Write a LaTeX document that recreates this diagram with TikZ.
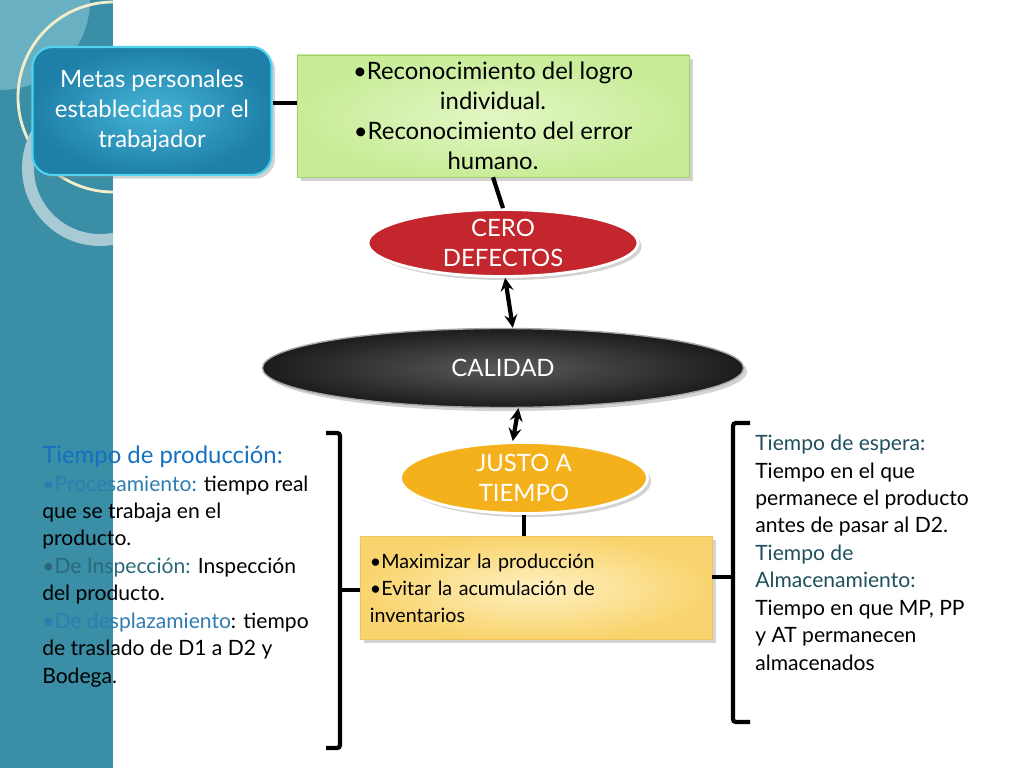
\documentclass[tikz,border=0pt]{standalone}
\usepackage{fontspec}
\setmainfont{Lato}
\usetikzlibrary{shapes.geometric,shadows,positioning}
\definecolor{band}{HTML}{3A8EA6}
\definecolor{bandlight}{HTML}{6AB0C3}
\definecolor{cream}{HTML}{F3EDCC}
\definecolor{ring}{HTML}{A8CAD4}
\definecolor{metain}{HTML}{45B3D6}
\definecolor{metaout}{HTML}{1E7FA8}
\definecolor{metaedge}{HTML}{4FD3EE}
\definecolor{greenin}{HTML}{E2F7C4}
\definecolor{greenout}{HTML}{C8EC98}
\definecolor{greenedge}{HTML}{A5CC75}
\definecolor{yellowin}{HTML}{FEF0C0}
\definecolor{yellowout}{HTML}{F9D46E}
\definecolor{yellowedge}{HTML}{F0C45A}
\definecolor{cero}{HTML}{C3262C}
\definecolor{calin}{HTML}{5A5A5A}
\definecolor{calout}{HTML}{1C1C1C}
\definecolor{justo}{HTML}{F5B11C}
\definecolor{heading}{HTML}{1470C2}
\definecolor{pre}{HTML}{2E7DB0}
\definecolor{predark}{HTML}{2A6A78}
\definecolor{side}{HTML}{1F4F5C}

\begin{document}
\begin{tikzpicture}[x=0.025cm,y=-0.025cm,>=stealth,
        link/.style={line width=3pt,black},
        twoway/.style={link,<->},
        box/.style={rectangle,drop shadow={opacity=0.35}},
        oval/.style={ellipse,draw=white,line width=2pt,drop shadow={opacity=0.35}},
        big/.style={font=\fontsize{17}{21.3}\selectfont},
        small/.style={font=\fontsize{15}{19.5}\selectfont}]
        \useasboundingbox (0,0) rectangle (1024,768);
        \fill[band] (0,0) rectangle (113,768);
        \begin{scope}
                \clip (0,0) rectangle (113,768);
                \fill[bandlight] (0,0) circle (90);
                \draw[cream,line width=2pt] (113,97) circle (95);
                \draw[ring,line width=8.5pt] (100,168) circle (72);
        \end{scope}

        \node[box,rounded corners=0.5cm,draw=metaedge,line width=1.5pt,inner color=metain,outer color=metaout,
                minimum width=5.975cm,minimum height=3.2cm,text=white,big,align=center] (meta) at (152,111)
                {Metas personales\\establecidas por el\\trabajador};
        \node[box,draw=greenedge,inner color=greenin,outer color=greenout,
                minimum width=9.8cm,minimum height=3.05cm,big,align=center] (recon) at (493,116)
                {•Reconocimiento del logro\\individual.\\•Reconocimiento del error\\humano.};
        \node[oval,fill=cero,minimum width=6.75cm,minimum height=1.675cm,
                label={[white,big,align=center]center:{CERO\\DEFECTOS}}] (ceroD) at (503,243) {};
        \node[ellipse,draw=gray!70,line width=1pt,inner color=calin,outer color=calout,drop shadow={opacity=0.35},
                minimum width=12.025cm,minimum height=1.975cm,
                label={[white,big]center:CALIDAD}] (calidad) at (503,368) {};
        \node[oval,fill=justo,minimum width=6.175cm,minimum height=1.775cm,
                label={[white,big,align=center]center:{JUSTO A\\TIEMPO}}] (justoT) at (524,478) {};
        \node[box,draw=yellowedge,inner color=yellowin,outer color=yellowout,inner xsep=0.25cm,
                text width=8.3cm,minimum height=2.575cm,align=left,
                font=\fontsize{14}{19.2}\selectfont] (maxim) at (536,588)
                {•Maximizar la producción\\•Evitar la acumulación de\\inventarios};

        \node[small,anchor=base west,align=left,inner sep=0pt] (prod) at (42,683)
                {{\fontsize{17}{19.5}\selectfont\color{heading}Tiempo de producción:}\\
                \textcolor{pre}{•Procesamiento:} tiempo real\\que se trabaja en el\\producto.\\
                \textcolor{predark}{•De Inspección:} Inspección\\del producto.\\
                \textcolor{pre}{•De desplazamiento}: tiempo\\de traslado de D1 a D2 y\\Bodega.};
        \node[small,anchor=base west,align=left,inner sep=0pt] (espera) at (755,670)
                {\textcolor{side}{Tiempo de espera:}\\Tiempo en el que\\permanece el producto\\antes de pasar al D2.\\
                \textcolor{side}{Tiempo de}\\\textcolor{side}{Almacenamiento:}\\Tiempo en que MP, PP\\y AT permanecen\\almacenados};

        \draw[link] (meta.east |- 0,103) -- (recon.west |- 0,103);
        \draw[link] (recon.south) -- (ceroD.north);
        \draw[twoway] ([xshift=1.5pt]ceroD.south) -- ([xshift=7pt]calidad.north);
        \draw[twoway] ([xshift=11pt]calidad.south) -- ([xshift=-8pt]justoT.north);
        \draw[link] (justoT.south) -- (justoT.south |- maxim.north);

        \coordinate (lb) at (340,590);
        \coordinate (rb) at (733,577);
        \draw[link,rounded corners=2pt] (326,433) -- (340,433) -- (340,748) -- (326,748);
        \draw[link,rounded corners=2pt] (750,423) -- (733,423) -- (733,722) -- (750,722);
        \draw[link] (lb) -- (lb -| maxim.west);
        \draw[link] (maxim.east |- rb) -- (rb);
\end{tikzpicture}
\end{document}
